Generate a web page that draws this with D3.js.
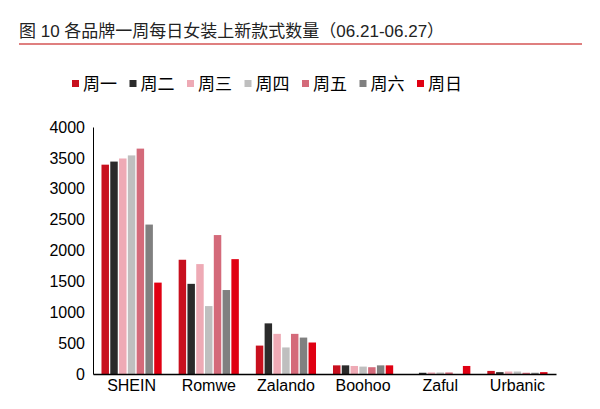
<!DOCTYPE html><html><head><meta charset="utf-8"><script src="https://d3js.org/d3.v7.min.js"></script>
<style>body{margin:0;background:#fff}text{font-family:"Liberation Sans","Noto Sans CJK SC",sans-serif}</style></head><body><svg id="c" width="600" height="409"></svg>
<script>
const categories=["SHEIN","Romwe","Zalando","Boohoo","Zaful","Urbanic"];
const seriesNames=["周一","周二","周三","周四","周五","周六","周日"];
const seriesColors=["#c8101e","#2b2b2b","#eeaab5","#bfbfbf","#d46a7a","#808080","#e00012"];
const mon=[3390,1850,460,140,0,50];
const tue=[3440,1460,820,140,20,30];
const wed=[3490,1780,650,130,25,40];
const thu=[3540,1100,430,120,25,40];
const fri=[3650,2250,650,110,25,20];
const sat=[2420,1360,590,140,0,20];
const sun=[1480,1860,510,140,130,30];
const series=[mon,tue,wed,thu,fri,sat,sun];
const yTicks=[0,500,1000,1500,2000,2500,3000,3500,4000];
const svg=d3.select("#c");
svg.append("text").attr("x",19).attr("y",37).attr("font-size",17).attr("fill","#222").text("图 10  各品牌一周每日女装上新款式数量（06.21-06.27）");
svg.append("line").attr("x1",19).attr("x2",582).attr("y1",44).attr("y2",44).attr("stroke","#c00000").attr("stroke-width",1.2);
const x=d3.scaleBand().domain(categories).range([93,556]).paddingInner(0.22).paddingOuter(0.11);
const xs=d3.scaleBand().domain(seriesNames).range([0,x.bandwidth()]).paddingInner(0.15);
const y=d3.scaleLinear().domain([0,4000]).range([374,127]);
const g=svg.append("g");
series.forEach((s,i)=>{g.selectAll(null).data(s).enter().append("rect")
 .attr("x",(d,j)=>x(categories[j])+xs(seriesNames[i])).attr("width",xs.bandwidth())
 .attr("y",d=>y(d)).attr("height",d=>y(0)-y(d)).attr("fill",seriesColors[i]);});
const ya=svg.append("g").attr("transform","translate(93,0)").call(d3.axisLeft(y).tickValues(yTicks).tickFormat(d3.format("d")).tickSize(0).tickPadding(8));
ya.select(".domain").attr("stroke","#000");
ya.selectAll("text").attr("font-size",16).attr("fill","#000");
const xa=svg.append("g").attr("transform","translate(0,374)").call(d3.axisBottom(x).tickSize(0).tickPadding(6));
xa.select(".domain").attr("stroke","#000").attr("stroke-width",1.5);
xa.selectAll("text").attr("font-size",16).attr("fill","#000");
const lg=svg.append("g");
seriesNames.forEach((n,i)=>{const lx=72+i*57.5;
 lg.append("rect").attr("x",lx).attr("y",80).attr("width",7).attr("height",7).attr("fill",seriesColors[i]);
 lg.append("text").attr("x",lx+11).attr("y",90).attr("font-size",17).attr("fill","#000").text(n);});
</script></body></html>
